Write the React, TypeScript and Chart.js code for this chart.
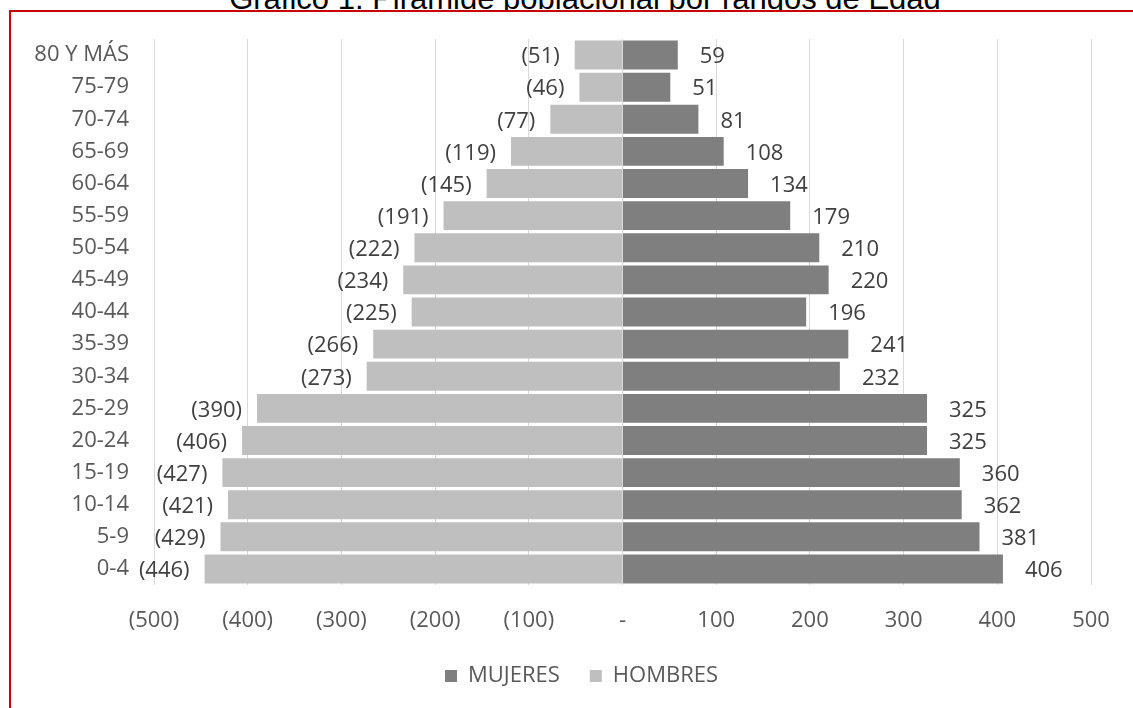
import React, { useEffect, useRef } from 'react';
import { Chart, registerables } from 'chart.js';

Chart.register(...registerables);

const categories = ['80 Y MÁS', '75-79', '70-74', '65-69', '60-64', '55-59', '50-54', '45-49', '40-44', '35-39', '30-34', '25-29', '20-24', '15-19', '10-14', '5-9', '0-4'];
const mujeres = [59, 51, 81, 108, 134, 179, 210, 220, 196, 241, 232, 325, 325, 360, 362, 381, 406];
const hombres = [51, 46, 77, 119, 145, 191, 222, 234, 225, 266, 273, 390, 406, 427, 421, 429, 446];
const seriesNames = ['MUJERES', 'HOMBRES'];
const titleText = 'Gráfico 1: Pirámide poblacional por rangos de Edad';
const xMin = -500;
const xMax = 500;
const xStep = 100;

const FONT = "'Open Sans', sans-serif";

const fmt = (v: number) => (v < 0 ? `(${-v})` : v === 0 ? '-' : String(v));

const labelPlugin = {
  id: 'barLabels',
  afterDatasetsDraw(chart: any) {
    const ctx = chart.ctx;
    ctx.save();
    ctx.font = `22px ${FONT}`;
    ctx.fillStyle = '#404040';
    ctx.textBaseline = 'middle';
    chart.data.datasets.forEach((ds: any, di: number) => {
      const meta = chart.getDatasetMeta(di);
      meta.data.forEach((bar: any, i: number) => {
        const v = ds.data[i] as number;
        if (v < 0) {
          ctx.textAlign = 'right';
          ctx.fillText(fmt(v), bar.x - 15, bar.y + 2);
        } else {
          ctx.textAlign = 'left';
          ctx.fillText(fmt(v), bar.x + 22, bar.y + 2);
        }
      });
    });
    ctx.restore();
  },
};

const legendShift = {
  id: 'legendShift',
  afterLayout(chart: any) {
    const l = chart.legend;
    if (l) {
      l.left += 36;
      l.right += 36;
    }
  },
};

export default function App() {
  const ref = useRef<HTMLCanvasElement | null>(null);

  useEffect(() => {
    if (!ref.current) return;
    const chart = new Chart(ref.current, {
      type: 'bar',
      data: {
        labels: categories,
        datasets: [
          {
            label: seriesNames[0],
            data: mujeres,
            backgroundColor: '#7f7f7f',
            barPercentage: 0.9,
            categoryPercentage: 1,
          },
          {
            label: seriesNames[1],
            data: hombres.map((v) => -v),
            backgroundColor: '#bfbfbf',
            barPercentage: 0.9,
            categoryPercentage: 1,
          },
        ],
      },
      options: {
        indexAxis: 'y',
        responsive: false,
        animation: false,
        devicePixelRatio: 1,
        layout: { padding: { left: 0, right: 42, top: 39, bottom: 11 } },
        plugins: {
          title: { display: false },
          tooltip: { enabled: false },
          legend: {
            position: 'bottom',
            labels: {
              boxWidth: 12,
              boxHeight: 12,
              padding: 30,
              color: '#595959',
              font: { family: FONT, size: 22 },
            },
          },
        },
        scales: {
          x: {
            stacked: true,
            min: xMin,
            max: xMax,
            ticks: {
              stepSize: xStep,
              autoSkip: false,
              maxRotation: 0,
              color: '#595959',
              font: { family: FONT, size: 22 },
              padding: 23,
              callback: (v: any) => fmt(Number(v)),
            },
            grid: { color: '#d9d9d9', drawTicks: false },
            border: { display: false },
            afterFit: (s: any) => {
              s.height = 50;
            },
          },
          y: {
            stacked: true,
            ticks: {
              color: '#595959',
              font: { family: FONT, size: 22 },
              padding: 25,
              autoSkip: false,
            },
            grid: { display: false, drawTicks: false },
            border: { display: false },
            afterFit: (s: any) => {
              s.width = 154;
            },
          },
        },
      },
      plugins: [labelPlugin, legendShift],
    } as any);
    return () => chart.destroy();
  }, []);

  return (
    <div style={{ position: 'fixed', left: 0, top: 0, width: 1133, height: 708, overflow: 'hidden', background: '#fff' }}>
      <div
        style={{
          position: 'absolute',
          left: 0,
          top: -17,
          width: 1170,
          textAlign: 'center',
          fontFamily: "'Liberation Sans', Arial, sans-serif",
          fontSize: 31,
          lineHeight: '31px',
          color: '#000',
          whiteSpace: 'nowrap',
        }}
      >
        {titleText}
      </div>
      <div
        style={{
          position: 'absolute',
          left: 9,
          top: 10,
          width: 1160,
          height: 800,
          border: '2px solid #c80000',
          background: '#fff',
          boxSizing: 'border-box',
        }}
      />
      <canvas ref={ref} width={1133} height={708} style={{ position: 'absolute', left: 0, top: 0, width: 1133, height: 708 }} />
    </div>
  );
}
